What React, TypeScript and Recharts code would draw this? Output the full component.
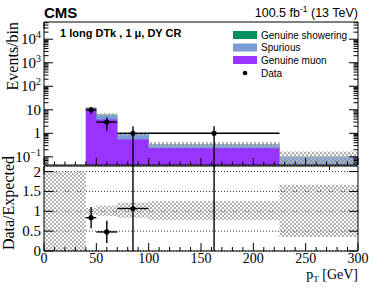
import React from 'react';
import { ComposedChart, Area, Scatter, ErrorBar, XAxis, YAxis, CartesianGrid } from 'recharts';

// ---- data ----
const binLo = [40, 50, 70, 100, 225];
const binHi = [50, 70, 100, 225, 300];
const genuineMuon = [11.5, 3.9, 0.54, 0.23, 0];
const spurious = [0.6, 2.1, 0.39, 0.11, 0.1];
const genuineShowering = [0.15, 0.25, 0.01, 0, 0];
const uncLo = [0.92, 0.88, 0.84, 0.78, 0.35];
const uncHi = [1.08, 1.14, 1.22, 1.25, 1.67];

const emptyBin = [0, 40];
const emptyBand = [0, 2];

const dataX = [45, 60, 85, 162.5];
const dataXErr = [5, 10, 15, 62.5];
const dataY = [10, 3, 1, 1];
const dataYErr = [3.2, 1.7, 1, 1];

const ratioY = [0.84, 0.48, 1.07, 2.9];
const ratioErr = [0.27, 0.28, 1.07, 2.9];

const logMajor = [0.1, 1, 10, 100, 1000, 10000];
const logLabels = ['10^-1', '1', '10', '10^2', '10^3', '10^4'];
const xMajor = [0, 50, 100, 150, 200, 250, 300];
const ratioTicks = [0, 0.5, 1, 1.5, 2];
const ratioLabels = ['0', '0.5', '1', '1.5', '2'];

const Y_MIN = 0.045;
const Y_MAX = 54000;
const R_MAX = 2.14;

// ---- derived tables ----
const logTicks: number[] = [];
for (let e = -2; e <= 4; e++) {
  for (let m = 1; m <= 9; m++) {
    const v = m * Math.pow(10, e);
    if (v >= Y_MIN && v <= Y_MAX) logTicks.push(Number(v.toPrecision(3)));
  }
}
const xTicks: number[] = [];
for (let v = 0; v <= 300; v += 10) xTicks.push(v);

const upperSteps = binLo.flatMap((lo, i) => {
  const tot = genuineMuon[i] + spurious[i] + genuineShowering[i];
  const mk = (x: number) => ({
    x,
    muon: genuineMuon[i] > 0 ? genuineMuon[i] : null,
    mid: genuineMuon[i] + spurious[i],
    tot,
    band: [tot * uncLo[i], tot * uncHi[i]],
  });
  return [mk(lo), mk(binHi[i])];
});

const ratioSteps = [
  { x: emptyBin[0], band: emptyBand },
  { x: emptyBin[1], band: emptyBand },
  ...binLo.flatMap((lo, i) => [
    { x: lo, band: [uncLo[i], uncHi[i]] },
    { x: binHi[i], band: [uncLo[i], uncHi[i]] },
  ]),
];

const upperPoints = dataX.map((x, i) => ({
  x,
  y: dataY[i],
  ex: [dataXErr[i], dataXErr[i]],
  ey: [Math.min(dataYErr[i], dataY[i] - 0.01), dataYErr[i]],
}));

const ratioPoints = dataX.map((x, i) => ({
  x,
  r: ratioY[i],
  ex: [dataXErr[i], dataXErr[i]],
  er: [ratioErr[i], ratioErr[i]],
}));

// ---- styles ----
const C_SHOWER = '#06905e';
const C_SPUR = '#7b9bd6';
const C_MUON = '#9933ff';
const SERIF = 'Liberation Serif, serif';
const SANS = 'Liberation Sans, Arial, sans-serif';
const axisLine = { stroke: '#000', strokeWidth: 1 };

const isMajorLog = (v: number) => Math.abs(Math.log10(v) - Math.round(Math.log10(v))) < 1e-6;

const LogLabel = ({ x, y, v }: { x: number; y: number; v: number }) => {
  const idx = logMajor.findIndex((m) => Math.abs(m - v) / m < 1e-6);
  if (idx < 0) return null;
  const lab = logLabels[idx];
  const parts = lab.split('^');
  return (
    <text x={x} y={y + 5} textAnchor="end" fontFamily={SERIF} fontSize={15} fill="#000">
      <tspan>{parts[0]}</tspan>
      {parts[1] && (
        <tspan dy={-6} fontSize={10}>
          {parts[1].replace('-', '\u2212')}
        </tspan>
      )}
    </text>
  );
};

const makeLogTick = (side: 'l' | 'r') => (props: any) => {
  const { x, y, payload } = props;
  const v = payload.value;
  const major = isMajorLog(v);
  const len = major ? 9 : 4.5;
  const dir = side === 'l' ? 1 : -1;
  return (
    <g>
      <line x1={x} x2={x + dir * len} y1={y} y2={y} stroke="#000" strokeWidth={1} />
      {side === 'l' && major && <LogLabel x={x - 3} y={y} v={v} />}
    </g>
  );
};

const makeRatioYTick = (side: 'l' | 'r') => (props: any) => {
  const { x, y, payload } = props;
  const v = payload.value;
  const dir = side === 'l' ? 1 : -1;
  const idx = ratioTicks.indexOf(v);
  return (
    <g>
      <line x1={x} x2={x + dir * 9} y1={y} y2={y} stroke="#000" strokeWidth={1} />
      {side === 'l' && idx >= 0 && (
        <text x={x - 3} y={y + 5} textAnchor="end" fontFamily={SERIF} fontSize={15} fill="#000">
          {ratioLabels[idx]}
        </text>
      )}
    </g>
  );
};

const makeXTick = (side: 'b' | 't', labels: boolean, majLen: number, minLen: number) => (props: any) => {
  const { x, y, payload } = props;
  const v = payload.value;
  const major = xMajor.includes(v);
  const len = major ? majLen : minLen;
  const dir = side === 'b' ? -1 : 1;
  return (
    <g>
      <line x1={x} x2={x} y1={y} y2={y + dir * len} stroke="#000" strokeWidth={1} />
      {labels && major && (
        <text x={x} y={y + 12} textAnchor="middle" fontFamily={SERIF} fontSize={14} fill="#000">
          {String(v)}
        </text>
      )}
    </g>
  );
};

const Hatch = ({ id }: { id: string }) => (
  <defs>
    <pattern id={id} width="4" height="4" patternUnits="userSpaceOnUse">
      <rect x="0" y="0" width="2" height="2" fill="#b0b0b0" />
      <rect x="2" y="2" width="2" height="2" fill="#b0b0b0" />
    </pattern>
  </defs>
);

const Dot = (props: any) => {
  const { cx, cy } = props;
  if (cx == null || cy == null) return null;
  return <circle cx={cx} cy={cy} r={2.6} fill="#000" />;
};

export default function App() {
  return (
    <div style={{ position: 'absolute', left: 0, top: 0, width: 374, height: 301, background: '#fff' }}>
      {/* upper panel */}
      <div style={{ position: 'absolute', left: 0, top: 0 }}>
        <ComposedChart width={374} height={166} data={upperSteps} margin={{ top: 0, right: 0, bottom: 0, left: 0 }}>
          <Hatch id="hatchU" />
          <XAxis
            xAxisId="b"
            dataKey="x"
            type="number"
            domain={[0, 300]}
            allowDataOverflow
            ticks={xTicks}
            interval={0}
            tickSize={0}
            tickMargin={0}
            height={1}
            axisLine={axisLine}
            tickLine={false}
            tick={makeXTick('b', false, 7, 3.5)}
          />
          <XAxis
            xAxisId="t"
            orientation="top"
            type="number"
            domain={[0, 300]}
            allowDataOverflow
            ticks={xTicks}
            interval={0}
            tickSize={0}
            tickMargin={0}
            height={22}
            axisLine={axisLine}
            tickLine={false}
            tick={makeXTick('t', false, 7, 3.5)}
          />
          <YAxis
            yAxisId="l"
            type="number"
            scale="log"
            domain={[Y_MIN, Y_MAX]}
            allowDataOverflow
            ticks={logTicks}
            interval={0}
            tickSize={0}
            tickMargin={0}
            width={44}
            axisLine={axisLine}
            tickLine={false}
            tick={makeLogTick('l')}
          />
          <YAxis
            yAxisId="r"
            orientation="right"
            type="number"
            scale="log"
            domain={[Y_MIN, Y_MAX]}
            allowDataOverflow
            ticks={logTicks}
            interval={0}
            tickSize={0}
            tickMargin={0}
            width={16}
            axisLine={axisLine}
            tickLine={false}
            tick={makeLogTick('r')}
          />
          <Area xAxisId="b" yAxisId="l" dataKey="tot" type="linear" fill={C_SHOWER} fillOpacity={1} stroke="none" isAnimationActive={false} baseValue={Y_MIN} />
          <Area xAxisId="b" yAxisId="l" dataKey="mid" type="linear" fill={C_SPUR} fillOpacity={1} stroke="none" isAnimationActive={false} baseValue={Y_MIN} />
          <Area xAxisId="b" yAxisId="l" dataKey="muon" type="linear" fill={C_MUON} fillOpacity={1} stroke="none" isAnimationActive={false} baseValue={Y_MIN} />
          <Area xAxisId="b" yAxisId="l" dataKey="band" type="linear" fill="url(#hatchU)" fillOpacity={1} stroke="none" isAnimationActive={false} />
          <Scatter xAxisId="b" yAxisId="l" data={upperPoints} dataKey="y" shape={Dot} isAnimationActive={false}>
            <ErrorBar dataKey="ex" direction="x" width={0} stroke="#000" strokeWidth={1.4} isAnimationActive={false} />
            <ErrorBar dataKey="ey" direction="y" width={0} stroke="#000" strokeWidth={1.4} isAnimationActive={false} />
          </Scatter>
        </ComposedChart>
      </div>

      {/* ratio panel */}
      <div style={{ position: 'absolute', left: 0, top: 165 }}>
        <ComposedChart width={374} height={136} data={ratioSteps} margin={{ top: 0, right: 0, bottom: 0, left: 0 }}>
          <Hatch id="hatchR" />
          <CartesianGrid xAxisId="b" yAxisId="l" vertical={false} stroke="#333" strokeDasharray="1 2" />
          <XAxis
            xAxisId="b"
            dataKey="x"
            type="number"
            domain={[0, 300]}
            allowDataOverflow
            ticks={xTicks}
            interval={0}
            tickSize={0}
            tickMargin={0}
            height={50}
            axisLine={axisLine}
            tickLine={false}
            tick={makeXTick('b', true, 8, 4)}
          />
          <XAxis
            xAxisId="t"
            orientation="top"
            type="number"
            domain={[0, 300]}
            allowDataOverflow
            ticks={xTicks}
            interval={0}
            tickSize={0}
            tickMargin={0}
            height={1}
            axisLine={axisLine}
            tickLine={false}
            tick={makeXTick('t', false, 8, 4)}
          />
          <YAxis
            yAxisId="l"
            type="number"
            domain={[0, R_MAX]}
            allowDataOverflow
            ticks={ratioTicks}
            interval={0}
            tickSize={0}
            tickMargin={0}
            width={44}
            axisLine={axisLine}
            tickLine={false}
            tick={makeRatioYTick('l')}
          />
          <YAxis
            yAxisId="r"
            orientation="right"
            type="number"
            domain={[0, R_MAX]}
            allowDataOverflow
            ticks={ratioTicks}
            interval={0}
            tickSize={0}
            tickMargin={0}
            width={16}
            axisLine={axisLine}
            tickLine={false}
            tick={makeRatioYTick('r')}
          />
          <Area xAxisId="b" yAxisId="l" dataKey="band" type="linear" fill="url(#hatchR)" fillOpacity={1} stroke="none" isAnimationActive={false} />
          <Scatter xAxisId="b" yAxisId="l" data={ratioPoints} dataKey="r" shape={Dot} isAnimationActive={false}>
            <ErrorBar dataKey="ex" direction="x" width={0} stroke="#000" strokeWidth={1.4} isAnimationActive={false} />
            <ErrorBar dataKey="er" direction="y" width={0} stroke="#000" strokeWidth={1.4} isAnimationActive={false} />
          </Scatter>
        </ComposedChart>
      </div>

      {/* texts and legend */}
      <svg width={374} height={301} style={{ position: 'absolute', left: 0, top: 0, pointerEvents: 'none' }}>
        <text x={44} y={18} fontFamily={SANS} fontWeight="bold" fontSize={15} fill="#000">CMS</text>
        <text x={358} y={17} textAnchor="end" fontFamily={SANS} fontSize={12.5} fill="#000">
          100.5 fb<tspan dy={-5} fontSize={8.5}>-1</tspan><tspan dy={5}> (13 TeV)</tspan>
        </text>
        <text x={60} y={37} fontFamily={SANS} fontWeight="bold" fontSize={11} fill="#000">1 long DTk , 1 μ, DY CR</text>

        <rect x={233} y={31} width={24} height={8} fill={C_SHOWER} />
        <text x={261} y={38.5} fontFamily={SANS} fontSize={10} fill="#000">Genuine showering</text>
        <rect x={233} y={43.5} width={24} height={8} fill={C_SPUR} />
        <text x={261} y={51} fontFamily={SANS} fontSize={10} fill="#000">Spurious</text>
        <rect x={233} y={56} width={24} height={8} fill={C_MUON} />
        <text x={261} y={63.5} fontFamily={SANS} fontSize={10} fill="#000">Genuine muon</text>
        <circle cx={245} cy={73} r={2.3} fill="#000" />
        <text x={261} y={76.5} fontFamily={SANS} fontSize={10} fill="#000">Data</text>

        <text transform="translate(18,22) rotate(-90)" textAnchor="end" fontFamily={SERIF} fontSize={16} fill="#000">Events/bin</text>
        <text transform="translate(14,203) rotate(-90)" textAnchor="middle" fontFamily={SERIF} fontSize={16} fill="#000">Data/Expected</text>

        <text x={358} y={279} textAnchor="end" fontFamily={SERIF} fontSize={14} fill="#000">
          p<tspan dy={3} fontSize={9}>T</tspan><tspan dy={-3}> [GeV]</tspan>
        </text>
      </svg>
    </div>
  );
}
